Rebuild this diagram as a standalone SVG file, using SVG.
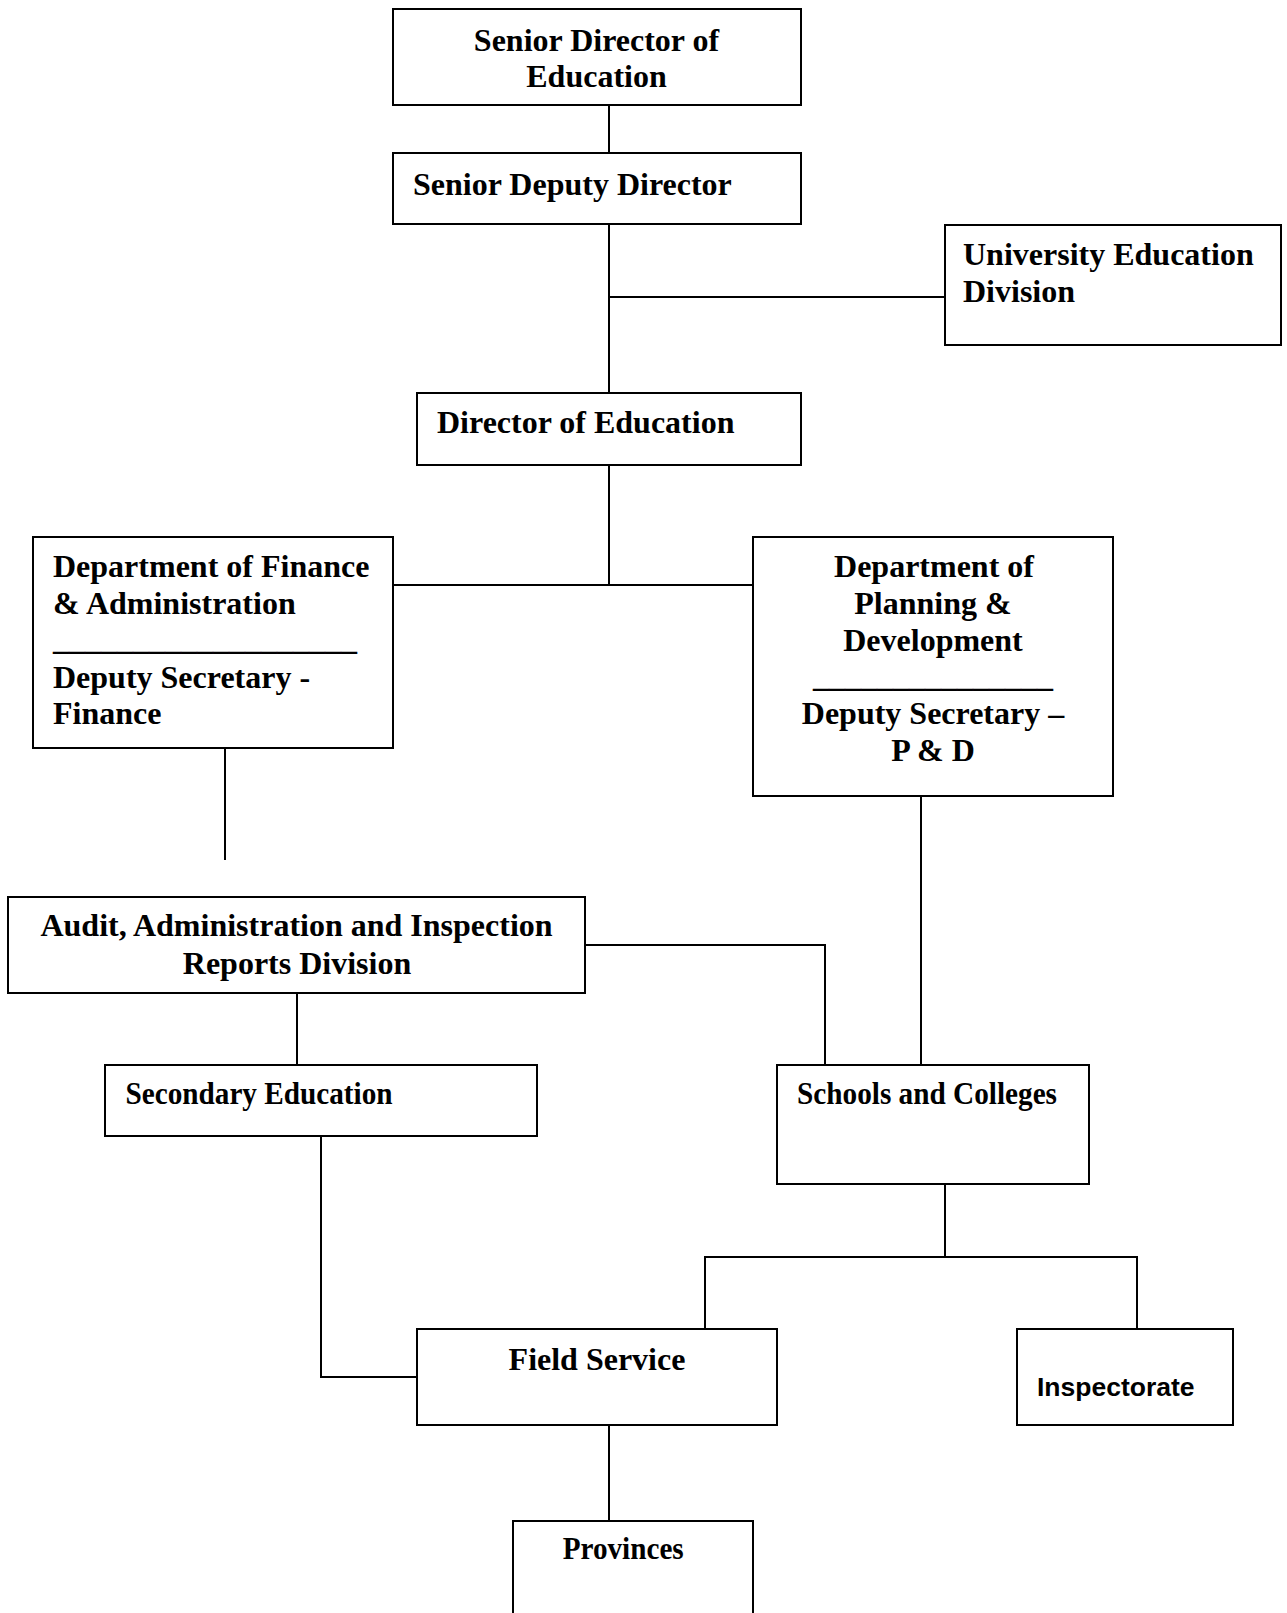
<svg xmlns="http://www.w3.org/2000/svg" width="1287" height="1613" viewBox="0 0 1287 1613">
<style>
.box{fill:#fff;stroke:#000;stroke-width:2}
.t{font-family:"Liberation Serif","Times New Roman",serif;font-weight:bold;font-size:32px;fill:#000}
.m{text-anchor:middle}
.s{font-family:"Liberation Sans",Arial,sans-serif;font-weight:bold;font-size:26.5px;fill:#000}
.c{fill:none;stroke:#000;stroke-width:2}
</style>
<rect width="1287" height="1613" fill="#fff"/>
<g id="connectors">
<path class="c" d="M609 105V153"/>
<path class="c" d="M609 224V393"/>
<path class="c" d="M609 297H945"/>
<path class="c" d="M609 465V585"/>
<path class="c" d="M393 585H753"/>
<path class="c" d="M225 748V860"/>
<path class="c" d="M585 945H825V1065"/>
<path class="c" d="M921 796V1065"/>
<path class="c" d="M297 993V1065"/>
<path class="c" d="M321 1136V1377H417"/>
<path class="c" d="M945 1184V1257"/>
<path class="c" d="M705 1329V1257H1137V1329"/>
<path class="c" d="M609 1425V1521"/>
</g>
<g id="senior-director">
<rect class="box" x="393" y="9" width="408" height="96"/>
<text class="t m" x="596.5" y="51">Senior Director of</text>
<text class="t m" x="596.5" y="87">Education</text>
</g>
<g id="senior-deputy-director">
<rect class="box" x="393" y="153" width="408" height="71"/>
<text class="t" x="413" y="195">Senior Deputy Director</text>
</g>
<g id="university-education">
<rect class="box" x="945" y="225" width="336" height="120"/>
<text class="t" x="963" y="265">University Education</text>
<text class="t" x="963" y="302">Division</text>
</g>
<g id="director-of-education">
<rect class="box" x="417" y="393" width="384" height="72"/>
<text class="t" x="437" y="433">Director of Education</text>
</g>
<g id="finance">
<rect class="box" x="33" y="537" width="360" height="211"/>
<text class="t" x="53" y="577">Department of Finance</text>
<text class="t" x="53" y="614">&amp; Administration</text>
<text class="t" x="53" y="650">___________________</text>
<text class="t" x="53" y="688">Deputy Secretary -</text>
<text class="t" x="53" y="724">Finance</text>
</g>
<g id="planning-development">
<rect class="box" x="753" y="537" width="360" height="259"/>
<text class="t m" x="934" y="577">Department of</text>
<text class="t m" x="933" y="614">Planning &amp;</text>
<text class="t m" x="933" y="651">Development</text>
<text class="t m" x="933" y="687">_______________</text>
<text class="t m" x="933" y="724">Deputy Secretary –</text>
<text class="t m" x="933" y="761">P &amp; D</text>
</g>
<g id="audit">
<rect class="box" x="8" y="897" width="577" height="96"/>
<text class="t m" x="296.5" y="936">Audit, Administration and Inspection</text>
<text class="t m" x="297" y="974">Reports Division</text>
</g>
<g id="secondary-education">
<rect class="box" x="105" y="1065" width="432" height="71"/>
<text class="t" x="125.5" y="1104" textLength="267" lengthAdjust="spacingAndGlyphs">Secondary Education</text>
</g>
<g id="schools-colleges">
<rect class="box" x="777" y="1065" width="312" height="119"/>
<text class="t" x="797" y="1104" textLength="260" lengthAdjust="spacingAndGlyphs">Schools and Colleges</text>
</g>
<g id="field-service">
<rect class="box" x="417" y="1329" width="360" height="96"/>
<text class="t m" x="597" y="1370">Field Service</text>
</g>
<g id="inspectorate">
<rect class="box" x="1017" y="1329" width="216" height="96"/>
<text class="s" x="1037" y="1396">Inspectorate</text>
</g>
<g id="provinces">
<rect class="box" x="513" y="1521" width="240" height="120"/>
<text class="t" x="562.7" y="1559" textLength="121" lengthAdjust="spacingAndGlyphs">Provinces</text>
</g>
</svg>
